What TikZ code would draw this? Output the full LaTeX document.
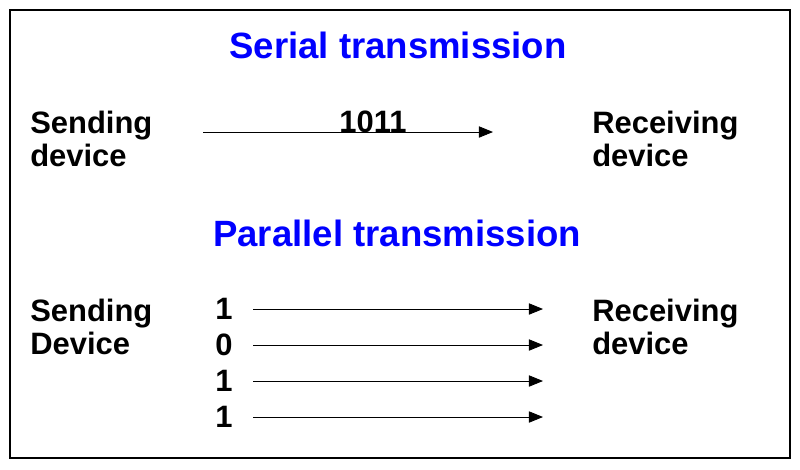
\documentclass[tikz,border=0pt]{standalone}
\usepackage{fontspec}
\setmainfont{Liberation Sans}
\usetikzlibrary{arrows.meta}
\begin{document}
\begin{tikzpicture}[x=0.025cm,y=-0.025cm,>={Triangle[length=10pt,width=8pt]},
	lbl/.style={font=\fontsize{22}{23.5}\selectfont\bfseries,align=left,anchor=west,inner sep=0pt},
	ttl/.style={font=\fontsize{26}{28}\selectfont\bfseries,text=blue,inner sep=0pt},
	wire/.style={->,semithick}]

		\useasboundingbox (0,0) rectangle (800,469);
		\draw[thick] (10,10) rectangle (790,458);

		% serial part
		\node[ttl] (serial) at (398,45) {Serial transmission};
		\node[lbl] (send1) at (30,139) {Sending\\device};
		\node[lbl] (recv1) at (592,139) {Receiving\\device};
		\coordinate (s1) at (203,132);
		\coordinate (e1) at (493,132);
		\draw[wire] (s1) -- (e1);
		\node[lbl,anchor=center] (bits) at (373,122) {1011};

		% parallel part
		\node[ttl] (parallel) at (397,233) {Parallel transmission};
		\node[lbl] (send2) at (30,327) {Sending\\Device};
		\node[lbl] (recv2) at (592,327) {Receiving\\device};
		\foreach \b/\y [count=\i] in {1/309,0/345,1/381,1/417}{
			\node[lbl,anchor=center] (bit\i) at (224,\y) {\b};
			\coordinate (p\i) at (253,\y);
			\coordinate (q\i) at (543,\y);
			\draw[wire] (p\i) -- (q\i);
		}
	\end{tikzpicture}
\end{document}
